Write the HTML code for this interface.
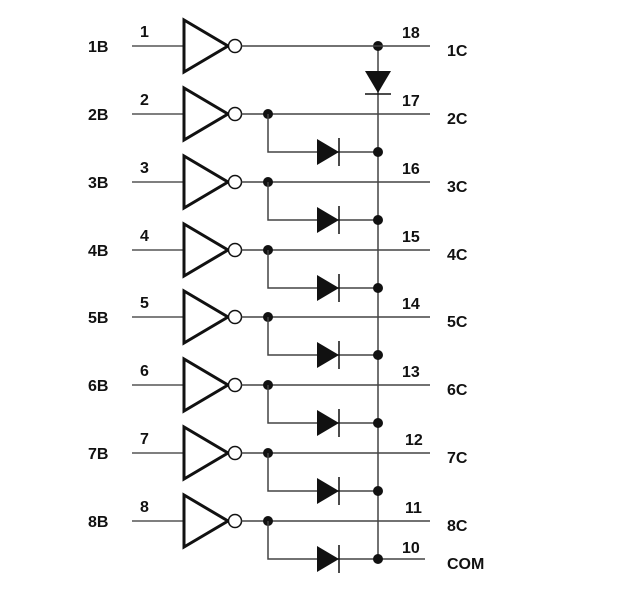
<!DOCTYPE html>
<html><head><meta charset="utf-8"><style>
html,body{margin:0;padding:0;background:#fff;}
svg{display:block;}
text{font-family:"Liberation Sans",Arial,sans-serif;font-weight:bold;font-size:16px;fill:#111;}
</style></head><body>
<svg width="620" height="597" viewBox="0 0 620 597" xmlns="http://www.w3.org/2000/svg">
<defs>
<g id="inv">
<line x1="132" y1="0" x2="184" y2="0" stroke="#555" stroke-width="1.5"/>
<polygon points="184,-26 184,26 228,0" fill="none" stroke="#111" stroke-width="3" stroke-linejoin="miter"/>
<circle cx="235" cy="0" r="6.5" fill="#fff" stroke="#111" stroke-width="1.5"/>
<line x1="241.5" y1="0" x2="430" y2="0" stroke="#444" stroke-width="1.5"/>
</g>
<g id="br">
<circle cx="268" cy="0" r="5" fill="#111"/>
<polyline points="268,0 268,38 378,38" fill="none" stroke="#444" stroke-width="1.5"/>
<polygon points="317,25 317,51 339,38" fill="#111"/>
<line x1="339" y1="24" x2="339" y2="52" stroke="#111" stroke-width="1.5"/>
<circle cx="378" cy="38" r="5" fill="#111"/>
</g>
</defs>
<line x1="378" y1="46" x2="378" y2="559" stroke="#444" stroke-width="1.5"/>
<circle cx="378" cy="46" r="5" fill="#111"/>
<polygon points="365,71 391,71 378,93" fill="#111"/>
<line x1="365" y1="94" x2="391" y2="94" stroke="#111" stroke-width="1.5"/>
<line x1="378" y1="559" x2="425" y2="559" stroke="#444" stroke-width="1.5"/>

<use href="#inv" y="46"/>
<use href="#inv" y="114"/><use href="#br" y="114"/>
<use href="#inv" y="182"/><use href="#br" y="182"/>
<use href="#inv" y="250"/><use href="#br" y="250"/>
<use href="#inv" y="317"/><use href="#br" y="317"/>
<use href="#inv" y="385"/><use href="#br" y="385"/>
<use href="#inv" y="453"/><use href="#br" y="453"/>
<use href="#inv" y="521"/><use href="#br" y="521"/>

<text x="88" y="52">1B</text><text x="140" y="37">1</text><text x="402" y="38">18</text><text x="447" y="56">1C</text>
<text x="88" y="120">2B</text><text x="140" y="105">2</text><text x="402" y="106">17</text><text x="447" y="124">2C</text>
<text x="88" y="188">3B</text><text x="140" y="173">3</text><text x="402" y="174">16</text><text x="447" y="192">3C</text>
<text x="88" y="256">4B</text><text x="140" y="241">4</text><text x="402" y="242">15</text><text x="447" y="260">4C</text>
<text x="88" y="323">5B</text><text x="140" y="308">5</text><text x="402" y="309">14</text><text x="447" y="327">5C</text>
<text x="88" y="391">6B</text><text x="140" y="376">6</text><text x="402" y="377">13</text><text x="447" y="395">6C</text>
<text x="88" y="459">7B</text><text x="140" y="444">7</text><text x="405" y="445">12</text><text x="447" y="463">7C</text>
<text x="88" y="527">8B</text><text x="140" y="512">8</text><text x="405" y="513">11</text><text x="447" y="531">8C</text>
<text x="402" y="553">10</text><text x="447" y="569">COM</text>
</svg>
</body></html>
